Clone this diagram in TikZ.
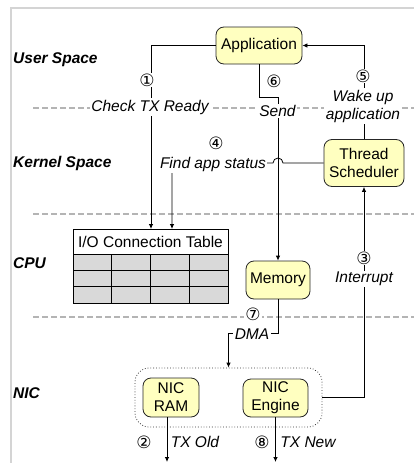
\documentclass[tikz,border=0pt]{standalone}
\usepackage{fontspec}
\setmainfont{Liberation Sans}
\newfontfamily\symfont{DejaVu Sans}
\usetikzlibrary{arrows.meta}
\definecolor{boxfill}{RGB}{255,255,192}
\definecolor{sepgray}{RGB}{180,180,180}
\definecolor{framegray}{RGB}{212,212,212}
\definecolor{cellgray}{RGB}{217,217,217}
\begin{document}
\begin{tikzpicture}[x=1pt,y=-1pt,
  font=\fontsize{15.5}{18}\selectfont,
  box/.style={draw=black!85, fill=boxfill, rounded corners=8pt, align=center, inner sep=0pt, line width=0.8pt},
  lbl/.style={fill=white, inner sep=1.5pt, font=\fontsize{15.5}{18}\selectfont\itshape, align=center},
  num/.style={fill=white, inner sep=1pt, font=\symfont\fontsize{17}{18}\selectfont},
  layer/.style={anchor=west, font=\fontsize{15.5}{18}\selectfont\bfseries\itshape, inner sep=0pt},
  conn/.style={line width=0.8pt, -{Latex[length=5pt,width=4.5pt]}},
  sepline/.style={sepgray, line width=1.8pt, dash pattern=on 5.5pt off 3.5pt},
  grp/.style={draw=black!80, dotted, line width=0.8pt, rounded corners=14pt, inner sep=0pt}]
\useasboundingbox (0,0) rectangle (414,463);
% frame
\draw[framegray, line width=1.5pt] (11,463) -- (11,8) -- (414,8);
% separators
\draw[sepline] (33,108) -- (414,108);
\draw[sepline] (33,214) -- (414,214);
\draw[sepline] (33,317) -- (414,317);
% layer labels
\node[layer] (lu) at (13,60) {User Space};
\node[layer] (lk) at (13,163) {Kernel Space};
\node[layer] (lc) at (13,263) {CPU};
\node[layer] (ln) at (13,393) {NIC};
% boxes
\node[box, minimum width=86pt, minimum height=37pt] (app) at (259,45.5) {Application};
\node[box, minimum width=80pt, minimum height=47pt] (ts) at (364,163) {Thread\\Scheduler};
\node[box, minimum width=64pt, minimum height=38pt] (mem) at (278,280) {Memory};
\node[grp, minimum width=187pt, minimum height=59pt] (grp) at (228.5,397.5) {};
\node[box, minimum width=56pt, minimum height=39pt] (ram) at (171,397.5) {NIC\\RAM};
\node[box, minimum width=65pt, minimum height=38pt] (eng) at (275.5,398) {NIC\\Engine};
% table
\node[draw=black, fill=white, line width=0.8pt, minimum width=155pt, minimum height=25pt, inner sep=0pt] (tbl) at (150.5,241.5) {I/O Connection Table};
\draw[fill=cellgray, line width=0.8pt] (73,254) rectangle (228,303);
\draw[line width=0.8pt] (111.75,254) -- (111.75,303) (150.5,254) -- (150.5,303) (189.25,254) -- (189.25,303)
  (73,270.3) -- (228,270.3) (73,286.7) -- (228,286.7);
% coordinates
\coordinate (t1) at (151,229);
\coordinate (t2) at (172,229);
\coordinate (b1) at (167,462);
\coordinate (b2) at (275.5,462);
% connectors
\draw[conn] (app.west) -| (t1);
\draw[conn] (ts.north) |- (app.east);
\draw[conn] (app.south) -- ++(0,33) -| (mem.north);
\draw[conn] (ts.west) -- (283,163) arc[start angle=0, end angle=-180, radius=5] -- (172,163) -- (t2);
\draw[conn] (mem.south) -- ++(0,34) -| (grp.north);
\draw[conn] (grp.east) -| (ts.south);
\draw[conn] ([xshift=-4pt]ram.south) -- (b1);
\draw[conn] (eng.south) -- (b2);
% labels
\node[num] (n1) at (147,80) {①};
\node[lbl] (l1) at (150,107) {Check TX Ready};
\node[num] (n6) at (274,81) {⑥};
\node[lbl] (l6) at (277.5,111) {Send};
\node[num] (n5) at (363,76) {⑤};
\node[lbl] (l5) at (363,106) {Wake up\\application};
\node[num] (n4) at (216,143) {④};
\node[lbl] (l4) at (213,164) {Find app status};
\node[num] (n3) at (364,258) {③};
\node[lbl] (l3) at (364,279) {Interrupt};
\node[num] (n7) at (253,314) {⑦};
\node[lbl] (l7) at (252,334) {DMA};
\node[num] (n2) at (144,442) {②};
\node[lbl] (l2) at (195,442) {TX Old};
\node[num] (n8) at (262,442) {⑧};
\node[lbl] (l8) at (308,442) {TX New};
\end{tikzpicture}
\end{document}
